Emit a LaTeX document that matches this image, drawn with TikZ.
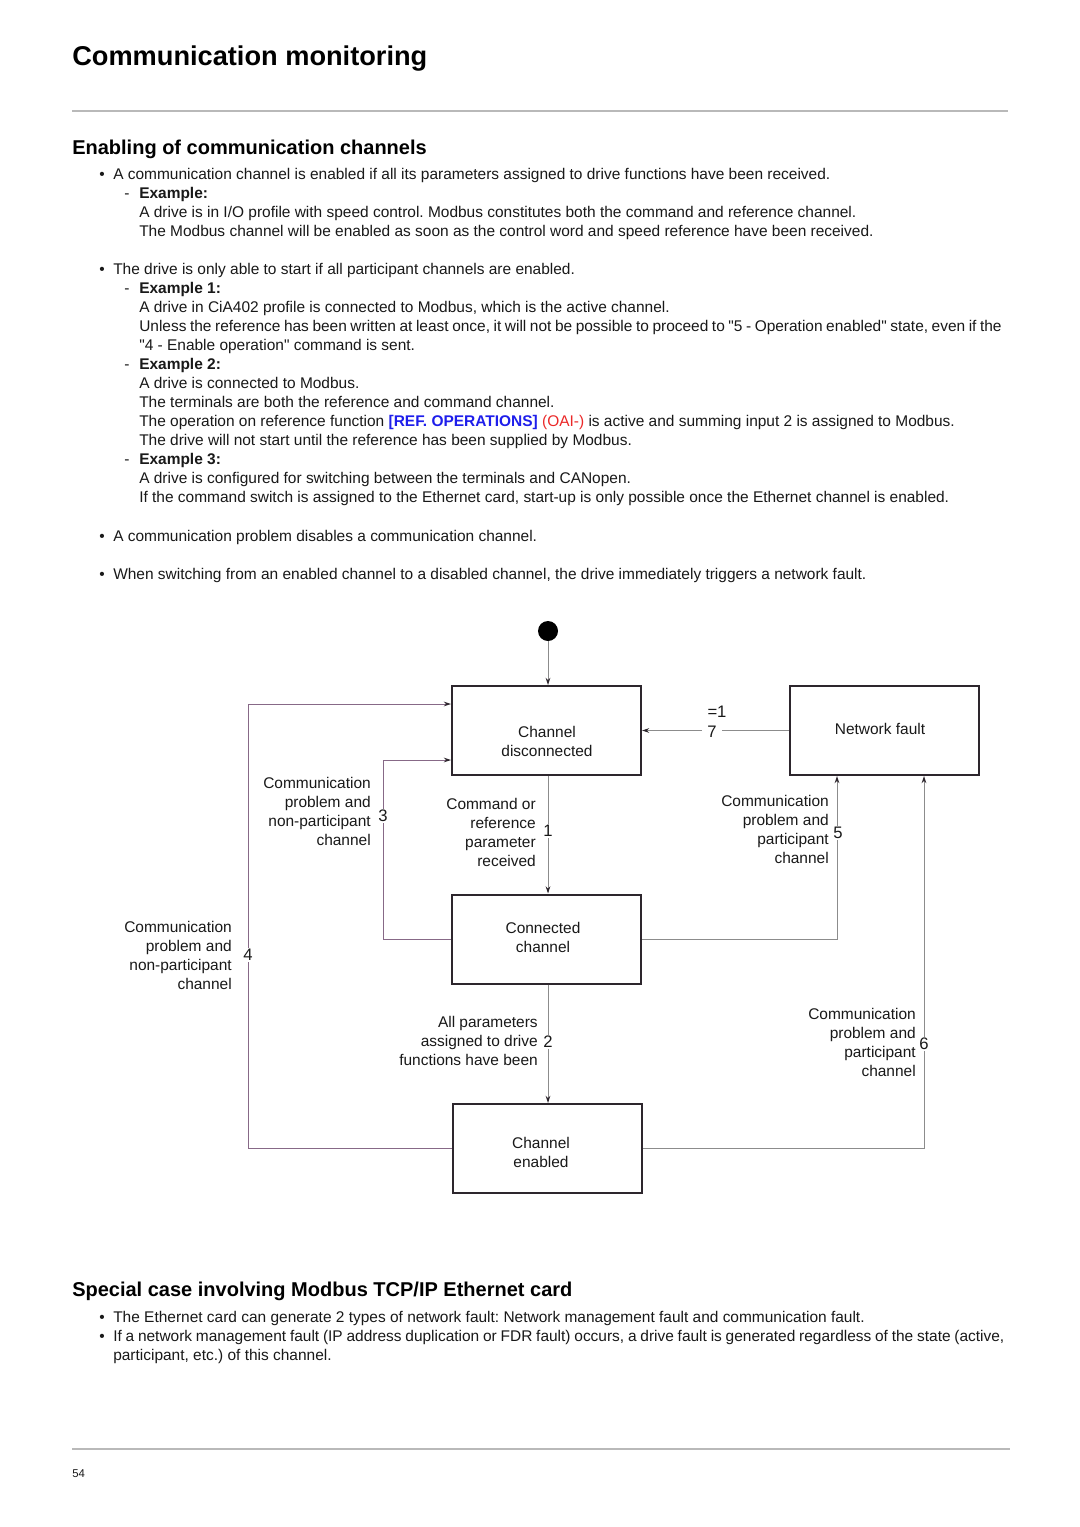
\documentclass[tikz,border=0pt]{standalone}
\usepackage{fontspec}
\setmainfont{Liberation Sans}[Ligatures=TeXOff]
\usetikzlibrary{arrows.meta}
\frenchspacing
\definecolor{refblue}{RGB}{30,30,235}
\definecolor{refred}{RGB}{235,40,40}
\definecolor{linegray}{RGB}{140,140,140}
\definecolor{rulegray}{RGB}{185,185,185}
\definecolor{boxdark}{RGB}{45,38,45}
\definecolor{leftline}{RGB}{135,105,135}
\definecolor{bodytxt}{RGB}{25,25,25}
\newcounter{lnc}
\newcommand\txtline[3]{\stepcounter{lnc}\node[txt] (l\arabic{lnc}) at (#1,#2) {#3};}
\newcommand\bulletmark[1]{\stepcounter{lnc}\node[txt] (b\arabic{lnc}) at (99,#1) {\textbullet};}
\newcommand\dashmark[2]{\stepcounter{lnc}\node[txt] (d\arabic{lnc}) at (124,#1) {-};\node[txt,font=\bfseries\fontsize{11.6}{14.25}\selectfont] (e\arabic{lnc}) at (139,#1) {#2};}
\begin{document}
\begin{tikzpicture}[x=0.75pt,y=-0.75pt,
  txt/.style={anchor=base west, inner sep=0pt, text=bodytxt, font=\fontsize{11.6}{14.25}\selectfont},
  lbl/.style={anchor=east, inner sep=0pt, align=right, text=bodytxt, font=\fontsize{11.6}{14.25}\selectfont},
  num/.style={fill=white, inner sep=1pt, text=bodytxt, font=\fontsize{12.5}{14}\selectfont},
  box/.style={draw=boxdark, line width=1.5pt, minimum width=141.75pt, minimum height=66.75pt, inner sep=0pt},
  boxtxt/.style={align=center, inner sep=0pt, text=bodytxt, font=\fontsize{11.6}{14.25}\selectfont},
  tip/.style={-{Stealth[length=5.5pt,width=3.6pt,color=boxdark]}},
  conn/.style={draw=linegray, line width=0.75pt, tip},
  connl/.style={draw=leftline, line width=0.75pt, tip}
]
\useasboundingbox[fill=white] (0,0) rectangle (1080,1527);

% header
\node[anchor=base west, inner sep=0pt, font=\bfseries\fontsize{20.4}{24}\selectfont] (title) at (72,66) {Communication monitoring};
\draw[rulegray, line width=1.5pt] (72,111) coordinate (r1a) -- (1008,111) coordinate (r1b);
\node[anchor=base west, inner sep=0pt, font=\bfseries\fontsize{15}{18}\selectfont] (h1) at (72,154) {Enabling of communication channels};

% text block
\bulletmark{179}
\txtline{113}{179}{A communication channel is enabled if all its parameters assigned to drive functions have been received.}
\dashmark{198}{Example:}
\txtline{139}{217}{A drive is in I/O profile with speed control. Modbus constitutes both the command and reference channel.}
\txtline{139}{236}{The Modbus channel will be enabled as soon as the control word and speed reference have been received.}
\bulletmark{274}
\txtline{113}{274}{The drive is only able to start if all participant channels are enabled.}
\dashmark{293}{Example 1:}
\txtline{139}{312}{A drive in CiA402 profile is connected to Modbus, which is the active channel.}
\txtline{139}{331}{\spaceskip=0.23em Unless the reference has been written at least once, it will not be possible to proceed to "5 - Operation enabled" state, even if the}
\txtline{139}{350}{"4 - Enable operation" command is sent.}
\dashmark{369}{Example 2:}
\txtline{139}{388}{A drive is connected to Modbus.}
\txtline{139}{407}{The terminals are both the reference and command channel.}
\txtline{139}{426}{The operation on reference function {\bfseries\color{refblue}[REF. OPERATIONS]} {\color{refred}(OAI-)} is active and summing input 2 is assigned to Modbus.}
\txtline{139}{445}{The drive will not start until the reference has been supplied by Modbus.}
\dashmark{464}{Example 3:}
\txtline{139}{483}{A drive is configured for switching between the terminals and CANopen.}
\txtline{139}{502}{If the command switch is assigned to the Ethernet card, start-up is only possible once the Ethernet channel is enabled.}
\bulletmark{541}
\txtline{113}{541}{A communication problem disables a communication channel.}
\bulletmark{579}
\txtline{113}{579}{When switching from an enabled channel to a disabled channel, the drive immediately triggers a network fault.}

% diagram
\node[circle, fill=black, minimum size=15pt, inner sep=0pt] (start) at (548,631) {};
\node[box] (cd) at (546.5,730.5) {};
\node[boxtxt] (cdt) at (547,741) {Channel\\disconnected};
\node[box] (nf) at (884.5,730.5) {};
\node[boxtxt] (nft) at (880,729) {Network fault};
\node[box] (cc) at (546.5,939) {};
\node[boxtxt] (cct) at (543,937) {Connected\\channel};
\node[box] (ce) at (547.5,1148.5) {};
\node[boxtxt] (cet) at (541,1152) {Channel\\enabled};

\coordinate (c3) at (383,760);
\coordinate (c4) at (248,704);
\coordinate (c5) at (837,800);
\coordinate (c6) at (924,800);

\draw[conn] (start) -- (start |- cd.north);
\draw[conn] (nf.west) -- (cd.east);
\draw[conn] (cd.south -| start) -- (cc.north -| start);
\draw[conn] (cc.south -| start) -- (ce.north -| start);
\draw[connl] (cc.west) -| (c3) -- (c3 -| cd.west);
\draw[connl] (ce.west) -| (c4) -- (c4 -| cd.west);
\draw[conn] (cc.east) -| (c5 |- nf.south);
\draw[conn] (ce.east) -| (c6 |- nf.south);

\node[num, inner xsep=4pt] (n7) at (712,732) {7};
\node[num, fill=none] (n7b) at (717,712) {=1};
\node[num] (n1) at (548,831) {1};
\node[num] (n2) at (548,1042) {2};
\node[num] (n3) at (383,816) {3};
\node[num] (n4) at (248,955) {4};
\node[num] (n5) at (838,833) {5};
\node[num] (n6) at (924,1044) {6};

\node[lbl] (t1) at (536,832.5) {Command or\\reference\\parameter\\received};
\node[lbl] (t2) at (538,1041) {All parameters\\assigned to drive\\functions have been};
\node[lbl] (t3) at (371,811.5) {Communication\\problem and\\non-participant\\channel};
\node[lbl] (t4) at (232,955.5) {Communication\\problem and\\non-participant\\channel};
\node[lbl] (t5) at (829,829.5) {Communication\\problem and\\participant\\channel};
\node[lbl] (t6) at (916,1042.5) {Communication\\problem and\\participant\\channel};

% second section
\node[anchor=base west, inner sep=0pt, font=\bfseries\fontsize{15}{18}\selectfont] (h2) at (72,1296) {Special case involving Modbus TCP/IP Ethernet card};
\bulletmark{1322}
\txtline{113}{1322}{The Ethernet card can generate 2 types of network fault: Network management fault and communication fault.}
\bulletmark{1341}
\txtline{113}{1341}{\spaceskip=0.245em If a network management fault (IP address duplication or FDR fault) occurs, a drive fault is generated regardless of the state (active,}
\txtline{113}{1360}{participant, etc.) of this channel.}

% footer
\draw[rulegray, line width=1pt] (72,1449) coordinate (r2a) -- (1010,1449) coordinate (r2b);
\node[anchor=base west, inner sep=0pt, text=bodytxt, font=\fontsize{8.5}{10}\selectfont] (pg) at (72,1477) {54};
\end{tikzpicture}
\end{document}
